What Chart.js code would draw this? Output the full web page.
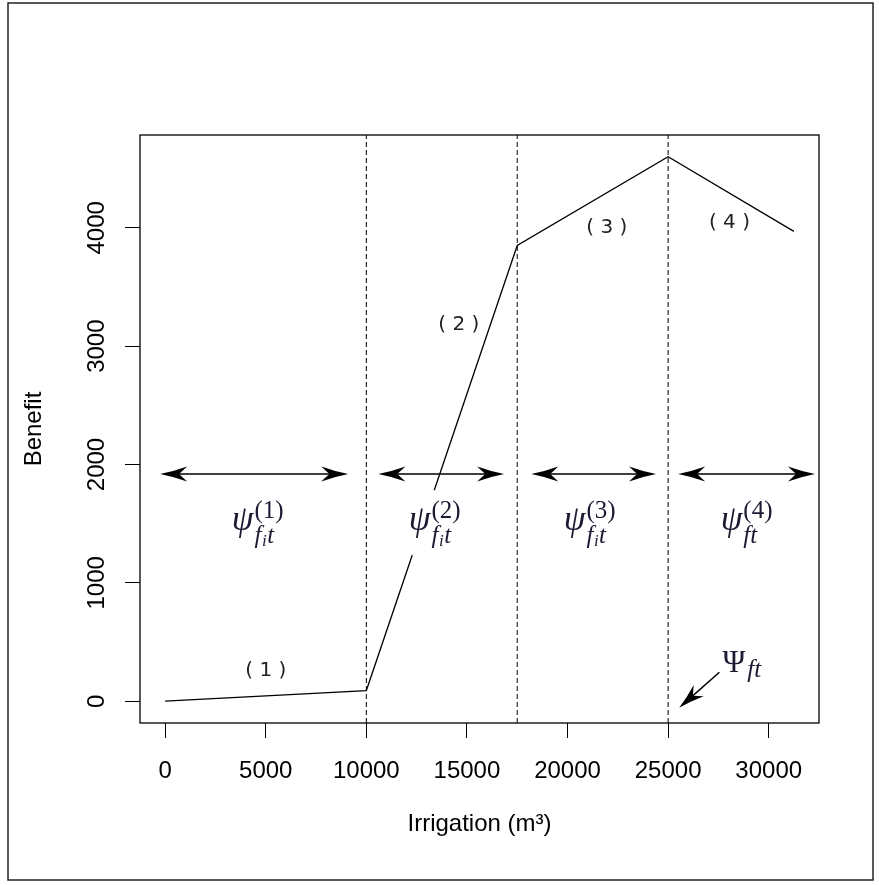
<!DOCTYPE html>
<html lang="en">
<head>
<meta charset="UTF-8">
<title>Benefit vs irrigation</title>
<script src="https://cdn.jsdelivr.net/npm/chart.js@4.4.0/dist/chart.umd.min.js"></script>
<style>
    body { margin: 0; background: #fff; }
    canvas { display: block; }
</style>
</head>
<body>
<canvas id="mychart" width="879" height="885"></canvas>
<script>
    // piecewise benefit curve
    const curveX = [0, 10000, 17500, 25000, 31250];
    const curveY = [0, 90, 3850, 4600, 3970];
    // dashed breakpoints
    const breakX = [10000, 17500, 25000];
    // axis limits (R style 4% expansion of data range)
    const xMin = -1250, xMax = 32500;
    const yMin = -184, yMax = 4784;
    const xTicks = [0, 5000, 10000, 15000, 20000, 25000, 30000];
    const yTicks = [0, 1000, 2000, 3000, 4000];
    // double arrows
    const spanFrom = [-250, 10600, 18200, 25500];
    const spanTo = [9100, 16850, 24400, 32300];
    const spanY = 1920;
    // psi labels
    const psiX = [4600, 13400, 21100, 28900];
    const psiY = 1445;
    const psiSup = ['(1)', '(2)', '(3)', '(4)'];
    const psiSub = [['f', 'i', 't'], ['f', 'i', 't'], ['f', 'i', 't'], ['f', '', 't']];
    // segment numbers
    const segText = ['( 1 )', '( 2 )', '( 3 )', '( 4 )'];
    const segX = [5000, 14600, 21950, 28050];
    const segY = [260, 3180, 4000, 4040];
    // Psi_ft annotation
    const bigX = 27700, bigY = 245;
    const bigArrowFrom = [27550, 245];
    const bigArrowTo = [25550, -55];

    const ink = '#1a1a33';

    function arrowHead(ctx, tx, ty, fx, fy, len, half) {
        const a = Math.atan2(ty - fy, tx - fx);
        const ux = Math.cos(a), uy = Math.sin(a);
        const px = -uy, py = ux;
        const bx = tx - ux * len, by = ty - uy * len;
        const cx = tx - ux * len * 0.5, cy = ty - uy * len * 0.5;
        ctx.beginPath();
        ctx.moveTo(tx, ty);
        ctx.quadraticCurveTo(cx + px * half * 0.35, cy + py * half * 0.35, bx + px * half, by + py * half);
        ctx.lineTo(tx - ux * len * 0.7, ty - uy * len * 0.7);
        ctx.lineTo(bx - px * half, by - py * half);
        ctx.quadraticCurveTo(cx - px * half * 0.35, cy - py * half * 0.35, tx, ty);
        ctx.closePath();
        ctx.fill();
    }

    const decor = {
        id: 'decor',
        afterDatasetsDraw(chart) {
            const ctx = chart.ctx;
            const xs = chart.scales.x, ys = chart.scales.y;
            ctx.save();
            ctx.fillStyle = '#000';
            ctx.strokeStyle = '#000';
            ctx.lineWidth = 1.5;

            // double arrows
            for (let i = 0; i < spanFrom.length; i++) {
                const x1 = xs.getPixelForValue(spanFrom[i]);
                const x2 = xs.getPixelForValue(spanTo[i]);
                const y = ys.getPixelForValue(spanY);
                ctx.beginPath();
                ctx.moveTo(x1 + 10, y);
                ctx.lineTo(x2 - 10, y);
                ctx.stroke();
                arrowHead(ctx, x2, y, x1, y, 27, 7.5);
                arrowHead(ctx, x1, y, x2, y, 27, 7.5);
            }

            // psi labels with white backing
            for (let i = 0; i < psiX.length; i++) {
                const cx = xs.getPixelForValue(psiX[i]);
                const b = ys.getPixelForValue(psiY);
                ctx.font = 'italic 35px "Liberation Serif"';
                const wPsi = ctx.measureText('\u03c8').width;
                ctx.font = '25px "Liberation Serif"';
                const wSup = ctx.measureText(psiSup[i]).width;
                const sub = psiSub[i];
                ctx.font = 'italic 25px "Liberation Serif"';
                const wf = ctx.measureText(sub[0]).width;
                const wt = ctx.measureText(sub[2]).width;
                ctx.font = 'italic 17px "Liberation Serif"';
                const wi = sub[1] ? ctx.measureText(sub[1]).width + 1 : 0;
                const wSub = wf + wi + wt;
                const total = wPsi + 1 + Math.max(wSup, wSub);
                const x0 = cx - total / 2;

                ctx.fillStyle = '#fff';
                ctx.fillRect(x0 - 3, b - 40, total + 6, 65);

                ctx.fillStyle = ink;
                ctx.textBaseline = 'alphabetic';
                ctx.textAlign = 'left';
                ctx.font = 'italic 35px "Liberation Serif"';
                ctx.fillText('\u03c8', x0, b);
                const xr = x0 + wPsi + 1;
                ctx.font = '25px "Liberation Serif"';
                ctx.fillText(psiSup[i], xr, b - 12);
                ctx.font = 'italic 25px "Liberation Serif"';
                ctx.fillText(sub[0], xr, b + 13);
                if (sub[1]) {
                    ctx.font = 'italic 17px "Liberation Serif"';
                    ctx.fillText(sub[1], xr + wf + 0.5, b + 16);
                }
                ctx.font = 'italic 25px "Liberation Serif"';
                ctx.fillText(sub[2], xr + wf + wi, b + 13);
            }

            // segment numbers
            ctx.fillStyle = '#222';
            ctx.font = '20px "DejaVu Sans"';
            ctx.textAlign = 'center';
            ctx.textBaseline = 'middle';
            for (let i = 0; i < segText.length; i++) {
                ctx.fillText(segText[i], xs.getPixelForValue(segX[i]), ys.getPixelForValue(segY[i]));
            }

            // Psi_ft with arrow
            const ax1 = xs.getPixelForValue(bigArrowFrom[0]), ay1 = ys.getPixelForValue(bigArrowFrom[1]);
            const ax2 = xs.getPixelForValue(bigArrowTo[0]), ay2 = ys.getPixelForValue(bigArrowTo[1]);
            ctx.fillStyle = '#000';
            ctx.beginPath();
            ctx.moveTo(ax1, ay1);
            ctx.lineTo(ax2 + (ax1 - ax2) * 0.3, ay2 + (ay1 - ay2) * 0.3);
            ctx.stroke();
            arrowHead(ctx, ax2, ay2, ax1, ay1, 26, 7.5);

            const bx = xs.getPixelForValue(bigX), by = ys.getPixelForValue(bigY);
            ctx.fillStyle = ink;
            ctx.textAlign = 'left';
            ctx.textBaseline = 'alphabetic';
            ctx.font = '31px "Liberation Serif"';
            ctx.fillText('\u03a8', bx, by);
            const wP = ctx.measureText('\u03a8').width;
            ctx.font = 'italic 25px "Liberation Serif"';
            ctx.fillText('ft', bx + wP + 2, by + 5);
            ctx.restore();
        },
        afterDraw(chart) {
            const ctx = chart.ctx;
            const a = chart.chartArea;
            const ys = chart.scales.y;
            ctx.save();
            ctx.strokeStyle = '#000';
            ctx.lineWidth = 1.3;
            ctx.strokeRect(a.left, a.top, a.right - a.left, a.bottom - a.top);
            ctx.strokeStyle = '#222';
            ctx.lineWidth = 1.5;
            ctx.strokeRect(8, 3, 865, 877);

            // vertical y tick labels, R style
            ctx.fillStyle = '#000';
            ctx.font = '24px "Liberation Sans"';
            ctx.textAlign = 'center';
            ctx.textBaseline = 'alphabetic';
            yTicks.forEach(v => {
                ctx.save();
                ctx.translate(104, ys.getPixelForValue(v));
                ctx.rotate(-Math.PI / 2);
                ctx.fillText(String(v), 0, 0);
                ctx.restore();
            });
            ctx.restore();
        }
    };

    const datasets = [{
        data: curveX.map((x, i) => ({ x: x, y: curveY[i] })),
        borderColor: '#000',
        borderWidth: 1.3,
        pointRadius: 0,
        tension: 0
    }];
    breakX.forEach(x => {
        datasets.push({
            data: [{ x: x, y: yMin }, { x: x, y: yMax }],
            borderColor: '#000',
            borderWidth: 1,
            borderDash: [5, 3],
            pointRadius: 0
        });
    });

    const ctx = document.getElementById('mychart');
    const mychart = new Chart(ctx, {
        type: 'line',
        data: { datasets: datasets },
        options: {
            responsive: false,
            animation: false,
            devicePixelRatio: 1,
            layout: { padding: { left: 0, top: 135, right: 60, bottom: 0 } },
            plugins: { legend: { display: false }, tooltip: { enabled: false } },
            scales: {
                x: {
                    type: 'linear',
                    min: xMin,
                    max: xMax,
                    afterBuildTicks: s => { s.ticks = xTicks.map(v => ({ value: v })); },
                    afterFit: s => { s.height = 162; },
                    border: { display: false },
                    grid: { drawOnChartArea: false, drawTicks: true, tickLength: 15, color: '#000', lineWidth: 1 },
                    ticks: {
                        color: '#000',
                        font: { family: 'Liberation Sans', size: 24 },
                        padding: 19,
                        maxRotation: 0,
                        autoSkip: false,
                        callback: v => String(v)
                    },
                    title: {
                        display: true,
                        text: 'Irrigation (m\u00b3)',
                        color: '#000',
                        font: { family: 'Liberation Sans', size: 24 },
                        padding: { top: 0, bottom: 46 }
                    }
                },
                y: {
                    type: 'linear',
                    min: yMin,
                    max: yMax,
                    afterBuildTicks: s => { s.ticks = yTicks.map(v => ({ value: v })); },
                    afterFit: s => { s.width = 140; },
                    border: { display: false },
                    grid: { drawOnChartArea: false, drawTicks: true, tickLength: 15, color: '#000', lineWidth: 1 },
                    ticks: { display: false },
                    title: {
                        display: true,
                        text: 'Benefit',
                        color: '#000',
                        font: { family: 'Liberation Sans', size: 24 },
                        padding: { top: 20, bottom: 0 }
                    }
                }
            }
        },
        plugins: [decor]
    });
</script>
</body>
</html>
